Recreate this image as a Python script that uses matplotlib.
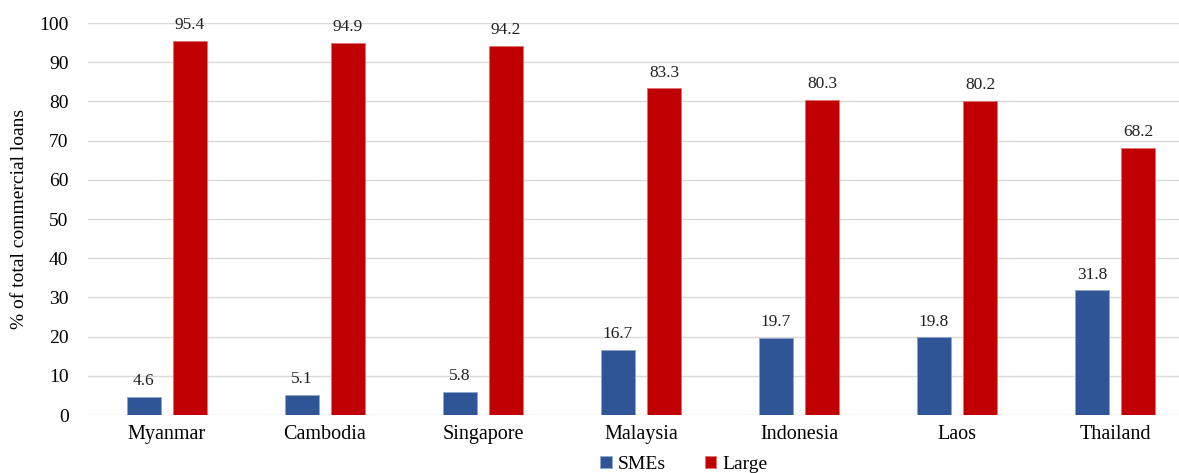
import matplotlib.pyplot as plt
import numpy as np

countries = ['Myanmar', 'Cambodia', 'Singapore', 'Malaysia', 'Indonesia', 'Laos', 'Thailand']
smes = [4.6, 5.1, 5.8, 16.7, 19.7, 19.8, 31.8]
large = [95.4, 94.9, 94.2, 83.3, 80.3, 80.2, 68.2]

plt.rcParams['font.family'] = ['Liberation Serif', 'DejaVu Serif']

fig = plt.figure(figsize=(11.79, 4.73), dpi=100)
ax = fig.add_axes([88 / 1179, 58 / 473, 1 - 88 / 1179, 392 / 473])

x = np.arange(len(countries))
w = 0.22
off = 0.146
b1 = ax.bar(x - off, smes, w, color='#2F5597', edgecolor='#8FA6D0', linewidth=0.6, label='SMEs', zorder=3)
b2 = ax.bar(x + off, large, w, color='#C00000', edgecolor='#E07070', linewidth=0.6, label='Large', zorder=3)

for bars, vals in ((b1, smes), (b2, large)):
    for rect, v in zip(bars, vals):
        ax.text(rect.get_x() + rect.get_width() / 2, v + 2.0, f'{v:.1f}',
                ha='center', va='bottom', fontsize=12.5, color='#222222')

ax.set_xlim(-0.5, (1179 - 167) / 158)
ax.set_ylim(0, 100)
ax.set_yticks(range(0, 101, 10))
ax.set_xticks(x)
ax.set_xticklabels(countries, fontsize=14.5)
ax.tick_params(axis='y', labelsize=14, length=0, pad=14)
ax.tick_params(axis='x', length=0, pad=7)
ax.grid(axis='y', color='#d9d9d9', linewidth=1, zorder=0)
for s in ax.spines.values():
    s.set_visible(False)
ax.set_ylabel('% of total commercial loans', fontsize=14, labelpad=8)

fig.legend(handles=[b1, b2], labels=['SMEs', 'Large'], loc='lower center', bbox_to_anchor=(0.58, -0.028),
           ncol=2, frameon=False, fontsize=14, handlelength=0.6, handleheight=0.6,
           columnspacing=2.0, handletextpad=0.3, borderpad=0.2)

fig.savefig('out.png', dpi=100)
